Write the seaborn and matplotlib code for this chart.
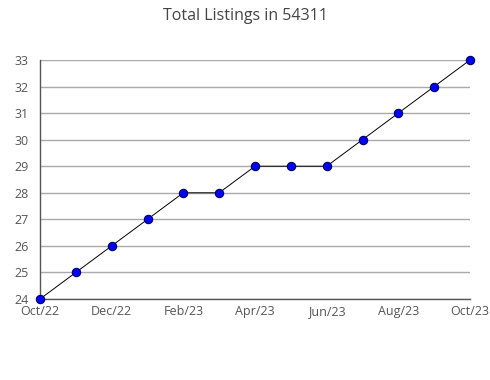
import matplotlib
matplotlib.use("Agg")
import matplotlib.pyplot as plt
import matplotlib.transforms as mtransforms
import seaborn as sns
import pandas as pd
from matplotlib.ticker import MultipleLocator

months = ["Oct/22", "Nov/22", "Dec/22", "Jan/23", "Feb/23", "Mar/23", "Apr/23",
          "May/23", "Jun/23", "Jul/23", "Aug/23", "Sep/23", "Oct/23"]
listings = [24, 25, 26, 27, 28, 28, 29, 29, 29, 30, 31, 32, 33]
tick_labels = ["Oct/22", "Dec/22", "Feb/23", "Apr/23", "Jun/23", "Aug/23", "Oct/23"]

df = pd.DataFrame({"idx": range(len(months)), "month": months, "listings": listings})

sns.set_style("white")
plt.rcParams["font.family"] = ["Open Sans", "DejaVu Sans"]

fig = plt.figure(figsize=(4.9, 3.8), dpi=100)
ax = fig.add_axes([40/490, 1-299/380, 430/490, 239/380])

ax.yaxis.grid(True, color="#aaaaaa", linewidth=1)
ax.set_axisbelow(True)

sns.lineplot(data=df, x="idx", y="listings", ax=ax, color="black", linewidth=0.7,
             marker="o", markersize=6, markerfacecolor="#0000ff",
             markeredgecolor="#000060", markeredgewidth=0.8, clip_on=False, zorder=3)

ax.set_xlim(0, len(months) - 1)
ax.set_ylim(24, 33)
ax.set_xticks([i for i, m in enumerate(months) if m in tick_labels])
ax.set_xticklabels(tick_labels)
ax.xaxis.set_minor_locator(MultipleLocator(1))
ax.yaxis.set_major_locator(MultipleLocator(1))
ax.yaxis.set_minor_locator(MultipleLocator(0.5))

for s in ["top", "right"]:
    ax.spines[s].set_visible(False)
for s in ["left", "bottom"]:
    ax.spines[s].set_color("#555555")
    ax.spines[s].set_linewidth(1)

ax.tick_params(axis="both", which="both", direction="in", colors="#555555",
               labelcolor="#555555", labelsize=9)
ax.tick_params(axis="x", which="both", length=5, pad=11.5)
ax.tick_params(axis="y", which="major", length=0, pad=8)
ax.tick_params(axis="y", which="minor", length=4)
ax.set_xlabel("")
ax.set_ylabel("")

fig.suptitle("Total Listings in 54311", x=0.5, y=1-16/380, va="center",
             fontsize=11.5, color="#444444")

fig.canvas.draw()
for t in ax.xaxis.get_major_ticks():
    t.label1.set_verticalalignment("baseline")
for t in ax.yaxis.get_major_ticks():
    t.label1.set_verticalalignment("center_baseline")
first = ax.yaxis.get_major_ticks()[0].label1
if first.get_text() == "24":
    first.set_transform(first.get_transform() +
                        mtransforms.ScaledTranslation(0, 2.5/72, fig.dpi_scale_trans))

fig.savefig("out.png", dpi=100)
